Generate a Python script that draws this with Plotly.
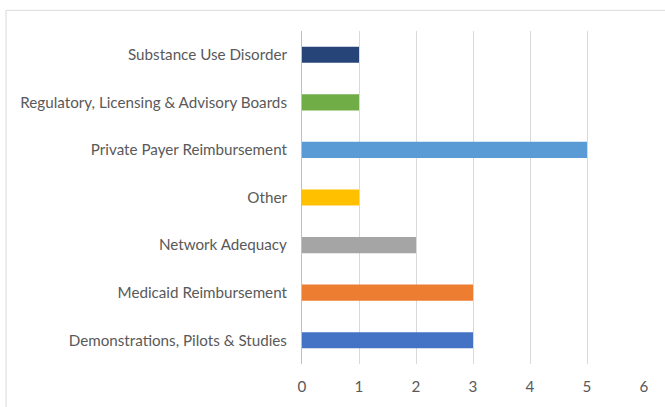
import plotly.graph_objects as go

categories = ["Demonstrations, Pilots & Studies", "Medicaid Reimbursement", "Network Adequacy",
              "Other", "Private Payer Reimbursement", "Regulatory, Licensing & Advisory Boards",
              "Substance Use Disorder"]
values = [3, 3, 2, 1, 5, 1, 1]
colors = ["#4472C4", "#ED7D31", "#A5A5A5", "#FFC000", "#5B9BD5", "#70AD47", "#264478"]
x_ticks = [0, 1, 2, 3, 4, 5, 6]

W, H = 665, 407
ml, mr, mt, mb = 302, 21, 31, 37
pw = W - ml - mr
ph = H - mt - mb

fig = go.Figure(go.Bar(y=categories, x=values, orientation="h",
                       marker=dict(color=colors, line=dict(width=0)), width=0.34))

font = dict(family="Lato", size=15.2, color="#595959")
fig.update_layout(
    width=W, height=H, margin=dict(l=ml, r=mr, t=mt, b=mb),
    paper_bgcolor="white", plot_bgcolor="white", showlegend=False, font=font,
    xaxis=dict(range=[0, 6], tickvals=x_ticks, showgrid=True, gridcolor="#D9D9D9",
               gridwidth=1, zeroline=False, showline=False, ticks="", ticklabelstandoff=12),
    yaxis=dict(showgrid=False, showline=True, linecolor="#BFBFBF", linewidth=1, ticks="",
               ticklabelstandoff=11, range=[-0.5, 6.5]),
    shapes=[dict(type="rect", xref="paper", yref="paper",
                 x0=(6 - ml) / pw, x1=(W + 20 - ml) / pw,
                 y0=-(H + 20 - mt - ph) / ph, y1=1 + (mt - 10) / ph,
                 line=dict(color="#D9D9D9", width=1), layer="below")],
)
fig.write_html("out.html", config={"displayModeBar": False},
               post_script="document.body.style.margin='0';")
